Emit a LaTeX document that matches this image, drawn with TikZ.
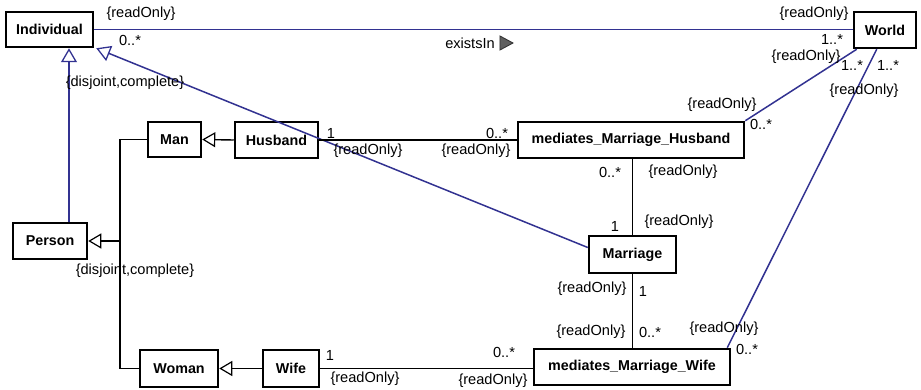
\documentclass[tikz,border=0pt]{standalone}
\usepackage{fontspec}
\setmainfont{Liberation Sans}
\usetikzlibrary{arrows.meta}
\definecolor{assoc}{RGB}{50,50,145}
\definecolor{navtri}{RGB}{95,95,95}
\begin{document}
\begin{tikzpicture}[x=1pt,y=-1pt,
  cls/.style={draw, line width=2.5pt, inner sep=0pt, fill=white,
              font=\fontsize{14.3}{16}\selectfont\bfseries},
  lbl/.style={inner sep=0pt, font=\fontsize{14.6}{16}\selectfont},
  link/.style={line width=1.4pt},
  blink/.style={line width=1.5pt, draw=assoc},
  gen/.style={link, -{Triangle[open, length=13pt, width=15pt, line width=1.2pt]}},
  bgen/.style={blink, -{Triangle[open, length=14pt, width=16pt, line width=1.3pt]}},
]
\useasboundingbox (0,0) rectangle (921,390);

% classes
\node[cls, minimum width=87pt,  minimum height=35pt] (Individual) at (49.5,29.5) {Individual};
\node[cls, minimum width=62pt,  minimum height=36pt] (World)      at (885,30)    {World};
\node[cls, minimum width=53pt,  minimum height=35pt] (Man)        at (174.5,139.5) {Man};
\node[cls, minimum width=83pt,  minimum height=36pt] (Husband)    at (276.5,140) {Husband};
\node[cls, minimum width=74pt,  minimum height=36pt] (Person)     at (50,241)    {Person};
\node[cls, minimum width=78pt,  minimum height=37pt] (Woman)      at (179,368.5) {Woman};
\node[cls, minimum width=56pt,  minimum height=37pt] (Wife)       at (291,368.5) {Wife};
\node[cls, minimum width=226pt, minimum height=36pt] (mMH)        at (631,140)   {mediates\_Marriage\_Husband};
\node[cls, minimum width=87pt,  minimum height=37pt] (Marriage)   at (632.5,254.5) {Marriage};
\node[cls, minimum width=196pt, minimum height=36pt] (mMW)        at (632,367)   {mediates\_Marriage\_Wife};

% generalizations
\draw[bgen] ([xshift=19pt]Person.north) -- ([xshift=19pt]Person.north |- Individual.south);
\draw[bgen] ([yshift=7pt]Marriage.west) -- ([xshift=2pt]Individual.south east);
\coordinate (bus) at (120,241);
\draw[link] (Man.west) -| (bus);
\draw[link] (Woman.west) -| (bus);
\draw[gen] (bus) -- (Person.east);
\draw[gen] (Husband.west) -- (Man.east);
\draw[gen] (Wife.west) -- (Woman.east);

% associations
\draw[blink] (Individual.east) -- (World.west |- Individual.east);
\draw[link] (Husband.east) -- (mMH.west);
\draw[link] (Wife.east) -- (mMW.west |- Wife.east);
\draw[link] (mMH.south -| Marriage.north) -- (Marriage.north);
\draw[link] (Marriage.south) -- (mMW.north -| Marriage.south);
\draw[blink] (mMH.north east) -- ([xshift=4pt]World.south west);
\draw[blink] ([xshift=-4pt]mMW.north east) -- ([xshift=24pt]World.south west);

% association name
\node[lbl] (exists) at (470,43) {existsIn};
\filldraw[fill=navtri, draw=black!80, line width=0.9pt]
  ([xshift=5pt]exists.east) ++(0,-7) -- ++(0,14) -- ++(13,-7) -- cycle;

% end labels
\node[lbl] (r1)  at (141,14)  {\{readOnly\}};
\node[lbl] (m1)  at (130,40)  {0..*};
\node[lbl] (d1)  at (125,83)  {\{disjoint,complete\}};
\node[lbl] (r2)  at (814,14)  {\{readOnly\}};
\node[lbl] (m2)  at (832,39)  {1..*};
\node[lbl] (r3)  at (806,57)  {\{readOnly\}};
\node[lbl] (m3)  at (852,65)  {1..*};
\node[lbl] (m4)  at (888,65)  {1..*};
\node[lbl] (r4)  at (864,91)  {\{readOnly\}};
\node[lbl] (r5)  at (722,105) {\{readOnly\}};
\node[lbl] (m5)  at (761,124) {0..*};
\node[lbl] (m6)  at (331,133) {1};
\node[lbl] (r6)  at (368,151) {\{readOnly\}};
\node[lbl] (m7)  at (497,133) {0..*};
\node[lbl] (r7)  at (476,151) {\{readOnly\}};
\node[lbl] (m8)  at (610,172) {0..*};
\node[lbl] (r8)  at (683,172) {\{readOnly\}};
\node[lbl] (m9)  at (615,226) {1};
\node[lbl] (r9)  at (679,222) {\{readOnly\}};
\node[lbl] (d2)  at (135,271) {\{disjoint,complete\}};
\node[lbl] (r10) at (592,289) {\{readOnly\}};
\node[lbl] (m10) at (643,291) {1};
\node[lbl] (r11) at (591,332) {\{readOnly\}};
\node[lbl] (m11) at (650,332) {0..*};
\node[lbl] (r12) at (724,329) {\{readOnly\}};
\node[lbl] (m12) at (747,349) {0..*};
\node[lbl] (m13) at (504,352) {0..*};
\node[lbl] (r13) at (493,381) {\{readOnly\}};
\node[lbl] (m14) at (330,355) {1};
\node[lbl] (r14) at (365,379) {\{readOnly\}};
\end{tikzpicture}
\end{document}
